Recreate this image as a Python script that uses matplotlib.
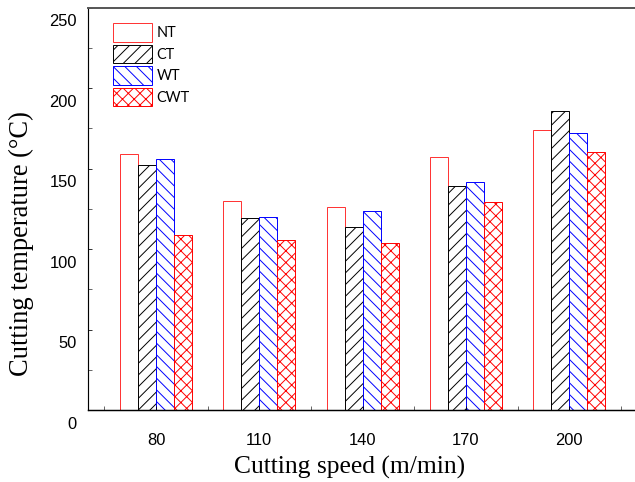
import matplotlib
matplotlib.use('Agg')
import matplotlib.pyplot as plt
import matplotlib.transforms as mtransforms
import numpy as np

# values
speeds = ['80', '110', '140', '170', '200']
nt     = [159, 130, 126, 157, 174]
ct     = [152, 119.5, 113.5, 139, 185.5]
wt     = [156, 120, 124, 142, 172]
cwt    = [108.5, 105.5, 104, 129, 160.5]

DPI = 70
W, H = 635, 482

def px(v):
    '''pixels -> points at this dpi'''
    return v * 72.0 / DPI

fig = plt.figure(figsize=(W / DPI, H / DPI), dpi=DPI)
ax  = fig.add_axes([88 / W, 1 - 410.3 / H, (W - 88) / W, (410.3 - 7.5) / H])

index = np.arange(len(speeds))
width = 0.174

ax.bar(index - 1.5 * width, nt, width, color='white', edgecolor='#ff3030',
       linewidth=1, label='NT')
ax.bar(index - 0.5 * width, ct, width, color='white', edgecolor='black',
       hatch='//', linewidth=1, label='CT')
ax.bar(index + 0.5 * width, wt, width, color='white', edgecolor='blue',
       hatch='\\\\', linewidth=1, label='WT')
ax.bar(index + 1.5 * width, cwt, width, color='white', edgecolor='red',
       hatch='xx', linewidth=1, label='CWT')

ax.set_xlim(-0.658, 4.636)
ax.set_ylim(0, 250)

# spines
ax.spines['right'].set_visible(False)
ax.spines['top'].set_color('#555555')
ax.spines['top'].set_linewidth(2)
ax.spines['left'].set_linewidth(1.2)
ax.spines['bottom'].set_linewidth(1.5)

# x axis: labels at group centres, small ticks between groups
ax.set_xticks(index)
ax.set_xticklabels(speeds, fontfamily='Liberation Sans', fontsize=px(16.5))
ax.set_xticks(np.arange(-0.5, 5.0, 1.0), minor=True)
ax.tick_params(axis='x', which='major', direction='in', length=px(4), pad=px(23))
ax.tick_params(axis='x', which='minor', direction='in', length=px(4))

# y axis: labels every 50 (drawn a bit low), ticks every 25
ax.set_yticks(np.arange(0, 251, 50))
ax.set_yticks(np.arange(25, 250, 50), minor=True)
ax.tick_params(axis='y', which='both', direction='in', length=px(3.5), pad=px(11))
for lab in ax.get_yticklabels():
    lab.set_fontfamily('Liberation Sans')
    lab.set_fontsize(px(16.5))
    lab.set_transform(lab.get_transform() +
                      mtransforms.ScaledTranslation(0, -12.5 / DPI, fig.dpi_scale_trans))

ax.set_xlabel('Cutting speed (m/min)', fontfamily='Liberation Serif', fontsize=px(25.5))
ax.set_ylabel('Cutting temperature (°C)', fontfamily='Liberation Serif', fontsize=px(26.5))
ax.xaxis.set_label_coords(0.479, -0.114)
ax.yaxis.set_label_coords(-0.098, 0.414)

ax.legend(loc='upper left', bbox_to_anchor=(0.0457, 0.961), frameon=False,
          borderpad=0, borderaxespad=0, handlelength=2.7, handleheight=1.6,
          labelspacing=0.2, handletextpad=0.3,
          prop={'family': 'Lato', 'size': px(14.5)})

fig.savefig('out.png', dpi=DPI)
